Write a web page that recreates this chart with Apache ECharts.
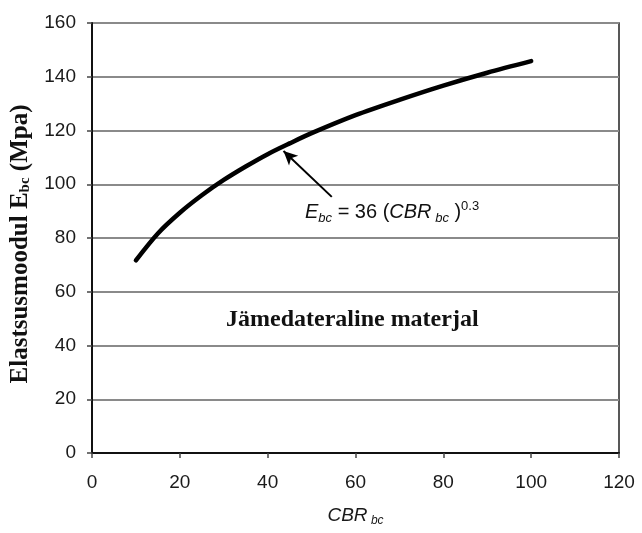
<!DOCTYPE html>
<html>
<head>
<meta charset="utf-8">
<script src="https://cdn.jsdelivr.net/npm/echarts@6/dist/echarts.min.js"></script>
<style>
  html, body { margin: 0; padding: 0; background: #fff; }
  #chart { width: 642px; height: 533px; }
</style>
</head>
<body>
<div id="chart"></div>
<script>
// CBR values (%) and the matching base-course modulus (MPa)
const cbr = [10, 15, 20, 25, 30, 35, 40, 45, 50, 60, 70, 80, 90, 100];
const modulus = [71.7, 81.7, 89.4, 95.9, 101.6, 106.6, 111.2, 115.2, 119.0, 125.7, 131.4, 136.7, 141.5, 145.8];

// Axis ranges and tick labels
const xTicks = [0, 20, 40, 60, 80, 100, 120];
const yTicks = [0, 20, 40, 60, 80, 100, 120, 140, 160];

// Arrow from the formula label to the curve
const arrowTail = [54.6, 95.3];
const arrowHead = [43.6, 112.4];

const chart = echarts.init(document.getElementById('chart'), null, { renderer: 'canvas' });

chart.setOption({
  animation: false,
  backgroundColor: '#fff',
  grid: {
    left: 92, right: 23, top: 23, bottom: 80,
    outerBoundsMode: 'none', containLabel: false,
    show: true, borderColor: '#222', borderWidth: 1.5
  },
  xAxis: {
    type: 'value',
    min: xTicks[0], max: xTicks[xTicks.length - 1], interval: 20,
    axisLine: { show: true, onZero: false, lineStyle: { color: '#111', width: 2 } },
    axisTick: { show: true, length: 5, lineStyle: { color: '#444', width: 1.5 } },
    splitLine: { show: false },
    axisLabel: { color: '#1a1a1a', fontFamily: 'Liberation Sans', fontSize: 19, margin: 20 },
    name: '{i|CBR}{s| bc}',
    nameLocation: 'middle',
    nameGap: 52,
    nameTextStyle: {
      rich: {
        i: { fontFamily: 'Liberation Sans', fontStyle: 'italic', fontSize: 19, color: '#1a1a1a' },
        s: { fontFamily: 'Liberation Sans', fontStyle: 'italic', fontSize: 12, color: '#1a1a1a', padding: [10, 0, 0, 0] }
      }
    }
  },
  yAxis: {
    type: 'value',
    min: yTicks[0], max: yTicks[yTicks.length - 1], interval: 20,
    axisLine: { show: true, lineStyle: { color: '#111', width: 2 } },
    axisTick: { show: true, length: 5, lineStyle: { color: '#444', width: 1.5 } },
    splitLine: { show: true, lineStyle: { color: '#8a8a8a', width: 1.8 } },
    axisLabel: { color: '#1a1a1a', fontFamily: 'Liberation Sans', fontSize: 19, margin: 16 },
    name: '{b|Elastsusmoodul E}{s|bc}{b| (Mpa)}',
    nameLocation: 'middle',
    nameGap: 59,
    nameRotate: 90,
    nameTextStyle: {
      padding: [0, 12, 0, 0],
      rich: {
        b: { fontFamily: 'Liberation Serif', fontWeight: 'bold', fontSize: 25, color: '#111' },
        s: { fontFamily: 'Liberation Serif', fontWeight: 'bold', fontSize: 15, color: '#111', padding: [10, 0, 0, 0] }
      }
    }
  },
  series: [{
    type: 'line',
    data: cbr.map((c, i) => [c, modulus[i]]),
    smooth: 0.3,
    showSymbol: false,
    lineStyle: { color: '#000', width: 4.5, cap: 'round' },
    markLine: {
      silent: true,
      symbol: ['none', 'arrow'],
      symbolSize: [10, 14],
      label: { show: false },
      lineStyle: { color: '#000', width: 2, type: 'solid' },
      data: [[{ coord: arrowTail }, { coord: arrowHead }]]
    }
  }],
  graphic: [
    {
      type: 'text',
      left: 305, top: 200,
      style: {
        text: '{i|E}{s|bc}{n| = 36 (}{i|CBR}{s| bc}{n| )}{p|0.3}',
        rich: {
          i: { fontFamily: 'Liberation Sans', fontStyle: 'italic', fontSize: 20, fill: '#111' },
          n: { fontFamily: 'Liberation Sans', fontSize: 20, fill: '#111' },
          s: { fontFamily: 'Liberation Sans', fontStyle: 'italic', fontSize: 13, fill: '#111', padding: [11, 0, 0, 0] },
          p: { fontFamily: 'Liberation Sans', fontSize: 13, fill: '#111', padding: [0, 0, 12, 0] }
        }
      }
    },
    {
      type: 'text',
      left: 226, top: 308,
      style: {
        text: 'Jämedateraline materjal',
        fontFamily: 'Liberation Serif', fontWeight: 'bold', fontSize: 24, fill: '#111'
      }
    }
  ]
});
</script>
</body>
</html>
